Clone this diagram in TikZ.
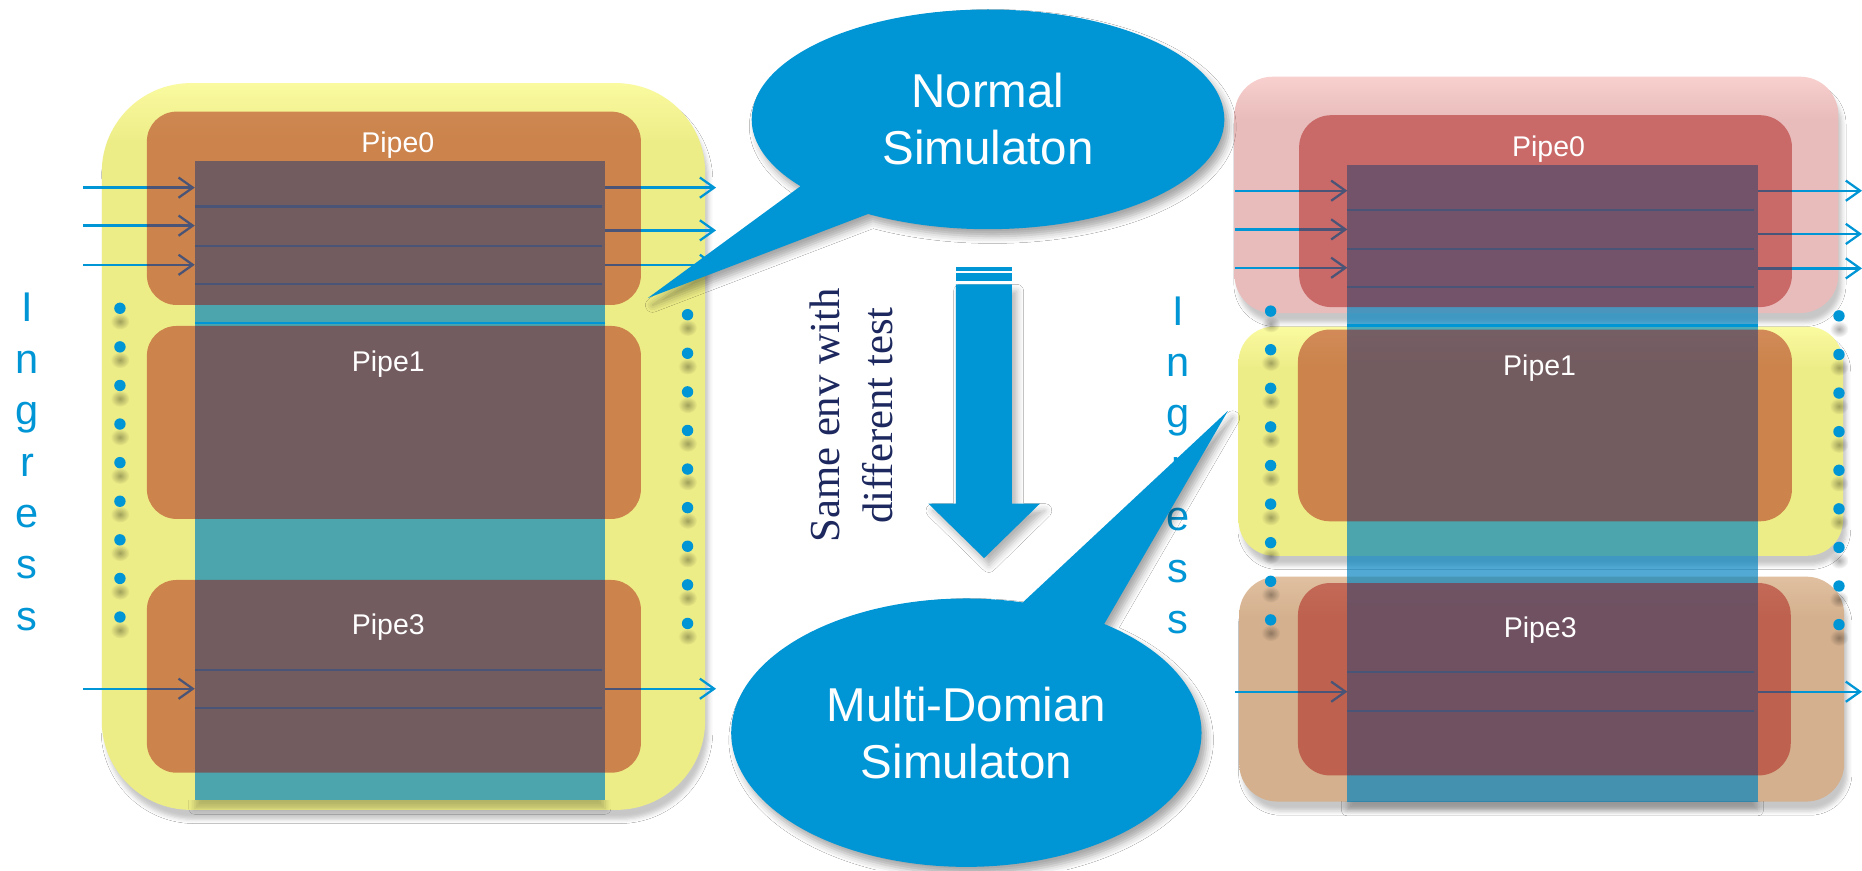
\documentclass[tikz,border=0pt]{standalone}
\usepackage{fontspec}
\setmainfont{Liberation Sans}
\newfontfamily\serifface{Liberation Serif}
\usetikzlibrary{arrows.meta,shapes.callouts,shadows.blur,fadings}

\definecolor{skyblue}{RGB}{0,150,214}
\definecolor{colblue}{RGB}{0,131,192}
\definecolor{pipered}{RGB}{164,4,3}
\definecolor{ylw}{RGB}{237,237,136}
\definecolor{ylwtop}{RGB}{250,250,160}
\definecolor{boxpink}{RGB}{232,188,187}
\definecolor{boxpinktop}{RGB}{248,208,206}
\definecolor{boxtan}{RGB}{212,176,142}
\definecolor{boxtantop}{RGB}{224,192,160}
\definecolor{navy}{RGB}{28,40,94}

% soft highlight along the top edge of the outer panels
\pgfdeclareverticalshading{ylwtall}{100bp}{color(0bp)=(ylw); color(71bp)=(ylw); color(75bp)=(ylwtop); color(100bp)=(ylwtop)}
\pgfdeclareverticalshading{ylwshort}{100bp}{color(0bp)=(ylw); color(66bp)=(ylw); color(75bp)=(ylwtop); color(100bp)=(ylwtop)}
\pgfdeclareverticalshading{pinkshade}{100bp}{color(0bp)=(boxpink); color(66bp)=(boxpink); color(75bp)=(boxpinktop); color(100bp)=(boxpinktop)}
\pgfdeclareverticalshading{tanshade}{100bp}{color(0bp)=(boxtan); color(66bp)=(boxtan); color(75bp)=(boxtantop); color(100bp)=(boxtantop)}

% soft round spot used as the shadow under each dot
\tikzfading[name=softspot, inner color=transparent!68, outer color=transparent!100]

\begin{document}
\begin{tikzpicture}[x=1pt,y=-1pt,
  boxshadow/.style={blur shadow={shadow xshift=3pt,shadow yshift=-8pt,shadow blur radius=3.5pt,shadow opacity=22}},
  laneshadow/.style={blur shadow={shadow xshift=0pt,shadow yshift=-7pt,shadow blur radius=5pt,shadow opacity=24}},
  dotnode/.style={circle,fill=skyblue,inner sep=0pt,minimum size=9.6pt},
  dotshade/.style={fill=black,path fading=softspot},
  lane/.style={fill=colblue,fill opacity=0.68},
  pipebox/.style={fill=pipered,fill opacity=0.45},
  wire/.style={draw=skyblue,line width=1.9pt},
  flow/.style={draw=skyblue,line width=1.9pt,-{Straight Barb[length=12pt,width=17pt]}},
  pipelabel/.style={anchor=base,text=white,font=\fontsize{24}{28}\selectfont,inner sep=0pt},
  ingress/.style={anchor=base,text=skyblue,font=\fontsize{35}{42}\selectfont,inner sep=0pt},
  bubble/.style={ellipse callout,fill=skyblue,text=white,align=center,inner sep=0pt,
    font=\fontsize{40}{48}\selectfont,callout pointer arc=22,
    blur shadow={shadow xshift=4pt,shadow yshift=-6pt,shadow blur radius=6pt,shadow opacity=35}}]

\useasboundingbox (0,0) rectangle (1568,733);
\fill[white] (0,0) rectangle (1568,733);

% ---------- outer panels ----------
\shade[shading=ylwtall,rounded corners=75pt,boxshadow] (85.7,70) rectangle (593.8,682);
\shade[shading=pinkshade,rounded corners=32pt,boxshadow] (1039.6,64.6) rectangle (1548,263.6);
\shade[shading=ylwshort,rounded corners=30pt,boxshadow] (1043,275) rectangle (1552,468);
\shade[shading=tanshade,rounded corners=32pt,boxshadow] (1043.5,485.6) rectangle (1553,675);

% ---------- ellipsis dots ----------
\foreach \k in {0,...,8} {
  \fill[dotshade] (101,259.6+32.5*\k+11) ellipse (8 and 7);
  \fill[dotshade] (579,265+32.5*\k+11) ellipse (8 and 7);
  \fill[dotshade] (1070,262+32.5*\k+11) ellipse (8 and 7);
  \fill[dotshade] (1548.6,266+32.5*\k+11) ellipse (8 and 7);
  \node[dotnode] (dA\k) at (101,259.6+32.5*\k) {};
  \node[dotnode] (dB\k) at (579,265+32.5*\k) {};
  \node[dotnode] (dC\k) at (1070,262+32.5*\k) {};
  \node[dotnode] (dD\k) at (1548.6,266+32.5*\k) {};
}

% ---------- data lanes ----------
% drop shadow showing only under the bottom edge of each lane
\begin{scope}
  \clip (150,673.7) rectangle (530,720);
  \path[laneshadow] (164,136) rectangle (509.5,673.7);
\end{scope}
\begin{scope}
  \clip (1120,675) rectangle (1500,720);
  \path[laneshadow] (1134.6,139) rectangle (1480,675);
\end{scope}
\fill[lane] (164,136) rectangle (509.5,673.7);
\fill[lane] (1134.6,139) rectangle (1480,675);

% lane separators, left
\foreach \y [count=\i] in {174,207,239,564,596} {
  \coordinate (sLa\i) at (164,\y); \coordinate (sLb\i) at (507,\y);
  \draw[wire] (sLa\i) -- (sLb\i);
}
\coordinate (tLa) at (164,272); \coordinate (tLb) at (509.5,272);
\draw[wire] (tLa) -- (tLb);

% lane separators, right
\foreach \y [count=\i] in {177,209.7,241.8,566,598.7} {
  \coordinate (sRa\i) at (1134.6,\y); \coordinate (sRb\i) at (1477,\y);
  \draw[wire] (sRa\i) -- (sRb\i);
}
\coordinate (tRa) at (1134.6,274); \coordinate (tRb) at (1480,274);
\draw[wire] (tRa) -- (tRb);

% ingress / egress arrows, left
\foreach \y [count=\i] in {158,190,223,580} {
  \coordinate (iLa\i) at (70.2,\y); \coordinate (iLb\i) at (164,\y);
  \draw[flow] (iLa\i) -- (iLb\i);
}
\foreach \y [count=\i] in {158,194,223,580} {
  \coordinate (oLa\i) at (509.5,\y); \coordinate (oLb\i) at (603,\y);
  \draw[flow] (oLa\i) -- (oLb\i);
}
% ingress / egress arrows, right
\foreach \y [count=\i] in {160.6,193.2,225.5,582.5} {
  \coordinate (iRa\i) at (1039.6,\y); \coordinate (iRb\i) at (1134.6,\y);
  \draw[flow] (iRa\i) -- (iRb\i);
}
\foreach \y [count=\i] in {160.6,197,226,582.5} {
  \coordinate (oRa\i) at (1480,\y); \coordinate (oRb\i) at (1568,\y);
  \draw[flow] (oRa\i) -- (oRb\i);
}

% ---------- pipes ----------
\fill[pipebox,rounded corners=25pt] (123.7,94) rectangle (539.7,256.8);
\fill[pipebox,rounded corners=25pt] (123.7,274.5) rectangle (539.7,437);
\fill[pipebox,rounded corners=25pt] (123.7,488.4) rectangle (539.7,650.7);
\fill[pipebox,rounded corners=27pt] (1094,97) rectangle (1509,258.6);
\fill[pipebox,rounded corners=27pt] (1093,277.5) rectangle (1509,439);
\fill[pipebox,rounded corners=27pt] (1093,491) rectangle (1508,653);

\node[pipelabel] (pL0) at (335,128.6) {Pipe0};
\node[pipelabel] (pL1) at (327,313) {Pipe1};
\node[pipelabel] (pL3) at (327,534) {Pipe3};
\node[pipelabel] (pR0) at (1304,132) {Pipe0};
\node[pipelabel] (pR1) at (1296.5,316) {Pipe1};
\node[pipelabel] (pR3) at (1297,537) {Pipe3};

% ---------- vertical "Ingress" captions ----------
\foreach \ch [count=\i from 0] in {I,n,g,r,e,s,s} {
  \node[ingress] (gL\i) at (23,271+43.3*\i) {\ch};
  \node[ingress] (gR\i) at (992,273.7+43.3*\i) {\ch};
}

% ---------- transition arrow ----------
\fill[skyblue,blur shadow={shadow xshift=4pt,shadow yshift=-6pt,shadow blur radius=6pt,shadow opacity=30}]
  (805,239.4) -- (852,239.4) -- (852,424) -- (875.8,424) -- (828.7,470)
  -- (781.7,424) -- (805,424) -- cycle;
\fill[skyblue] (805,224.6) rectangle (852,228);
\fill[skyblue] (805,230.2) rectangle (852,236.6);

\node[rotate=90,align=center,text=navy,inner sep=0pt,
      font=\serifface\fontsize{36}{44}\selectfont] (note) at (717,350)
  {Same env with\\different test};

% ---------- callouts ----------
\node[bubble,minimum width=398pt,minimum height=185pt,
      callout absolute pointer={(545.5,251)}] (normal) at (832,100.5) {Normal\\Simulaton};
\node[bubble,minimum width=396pt,minimum height=226pt,
      callout absolute pointer={(1034,346)}] (multi) at (813.8,617) {Multi-Domian\\Simulaton};

\end{tikzpicture}
\end{document}
